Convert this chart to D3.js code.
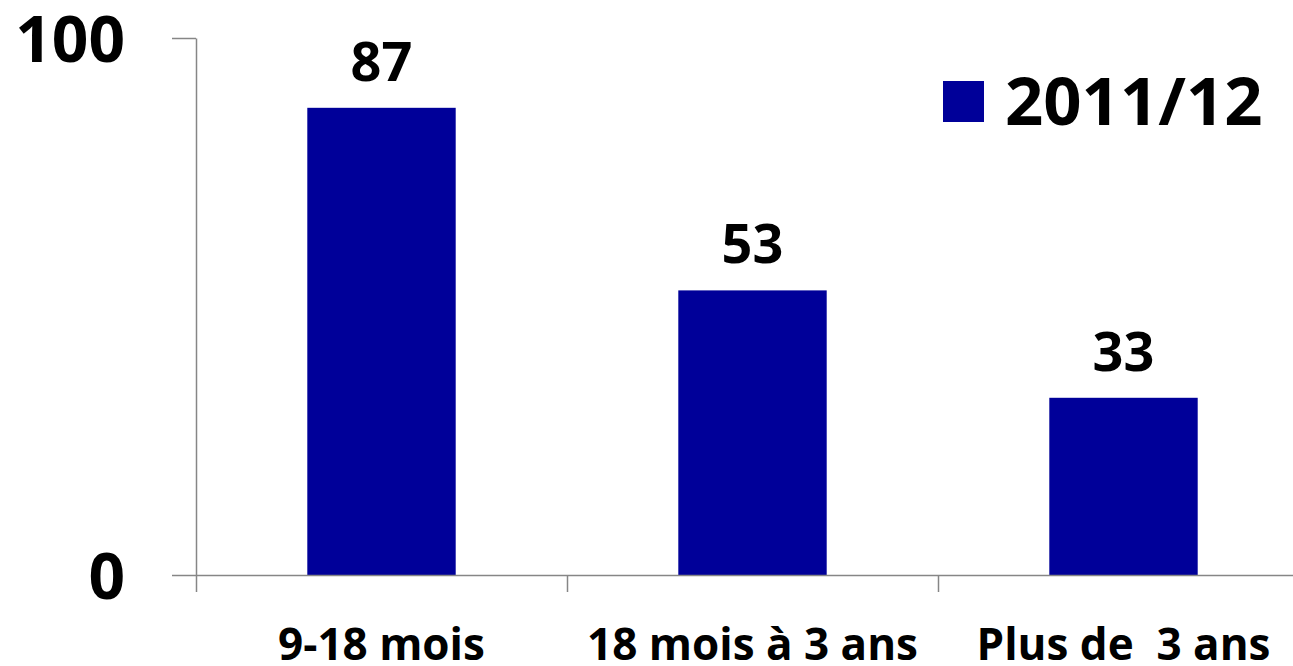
<!DOCTYPE html>
<html>
<head>
<meta charset="utf-8">
<script src="https://cdn.jsdelivr.net/npm/d3@7"></script>
<style>
  body { margin: 0; background: #fff; }
  svg text { font-family: "Open Sans", sans-serif; font-weight: 700; fill: #000; white-space: pre; }
</style>
</head>
<body>
<div id="chart"></div>
<script>
var categories = ["9-18 mois", "18 mois à 3 ans", "Plus de  3 ans"];
var values = [87, 53, 33];
var seriesName = "2011/12";
var yTicks = [0, 100];

function init() {
    var w = 1293, h = 666;
    var x0 = 196, x1 = 1309, yBase = 575, yTop = 38;
    var axisColor = "#868686";
    var barColor = "#000099";

    var svg = d3.select("#chart")
        .append("svg")
        .attr("width", w)
        .attr("height", h);

    var xScale = d3.scaleBand()
        .domain(categories)
        .range([x0, x1])
        .paddingInner(0.6)
        .paddingOuter(0.3);

    // category boundaries for the tick marks
    var edgeScale = d3.scaleLinear()
        .domain([0, categories.length])
        .range([x0, x1]);

    var yScale = d3.scaleLinear()
        .domain([0, 100])
        .range([yBase, yTop]);

    // bars
    svg.selectAll("rect.bar")
        .data(values)
        .enter()
        .append("rect")
        .attr("class", "bar")
        .attr("x", function (d, i) { return xScale(categories[i]); })
        .attr("y", function (d) { return yScale(d); })
        .attr("width", xScale.bandwidth())
        .attr("height", function (d) { return yBase - yScale(d); })
        .attr("fill", barColor);

    // value labels
    svg.selectAll("text.val")
        .data(values)
        .enter()
        .append("text")
        .attr("class", "val")
        .attr("x", function (d, i) { return xScale(categories[i]) + xScale.bandwidth() / 2; })
        .attr("y", function (d) { return yScale(d) - 27; })
        .attr("text-anchor", "middle")
        .style("font-size", "54px")
        .text(function (d) { return d; });

    // y axis
    var yAxis = d3.axisLeft(yScale)
        .tickValues(yTicks)
        .tickSizeInner(24)
        .tickSizeOuter(0)
        .tickPadding(47);

    var gy = svg.append("g")
        .attr("transform", "translate(" + x0 + ",0)")
        .call(yAxis);
    gy.select(".domain").attr("stroke", axisColor).attr("stroke-width", 1.5);
    gy.selectAll(".tick line").attr("stroke", axisColor).attr("stroke-width", 1.5);
    gy.selectAll(".tick text")
        .attr("fill", "#000")
        .attr("dy", "0.36em")
        .style("font-size", "64px");

    // x axis: boundary ticks
    var xAxis = d3.axisBottom(edgeScale)
        .tickValues(d3.range(categories.length + 1))
        .tickFormat("")
        .tickSizeInner(17)
        .tickSizeOuter(0);

    var gx = svg.append("g")
        .attr("transform", "translate(0," + yBase + ")")
        .call(xAxis);
    gx.select(".domain").attr("stroke", axisColor).attr("stroke-width", 1.5);
    gx.selectAll(".tick line").attr("stroke", axisColor).attr("stroke-width", 1.5);

    // x axis: category labels
    var xLabels = d3.axisBottom(xScale)
        .tickSize(0)
        .tickPadding(54);

    var gl = svg.append("g")
        .attr("transform", "translate(0," + yBase + ")")
        .call(xLabels);
    gl.select(".domain").remove();
    gl.selectAll(".tick text")
        .attr("fill", "#000")
        .style("font-size", "44px");

    // legend
    var legend = svg.append("g")
        .attr("transform", "translate(943,81)");
    legend.append("rect")
        .attr("width", 41)
        .attr("height", 41)
        .attr("fill", barColor);
    legend.append("text")
        .attr("x", 62)
        .attr("y", 44)
        .style("font-size", "67px")
        .text(seriesName);
}

window.onload = init;
</script>
</body>
</html>
